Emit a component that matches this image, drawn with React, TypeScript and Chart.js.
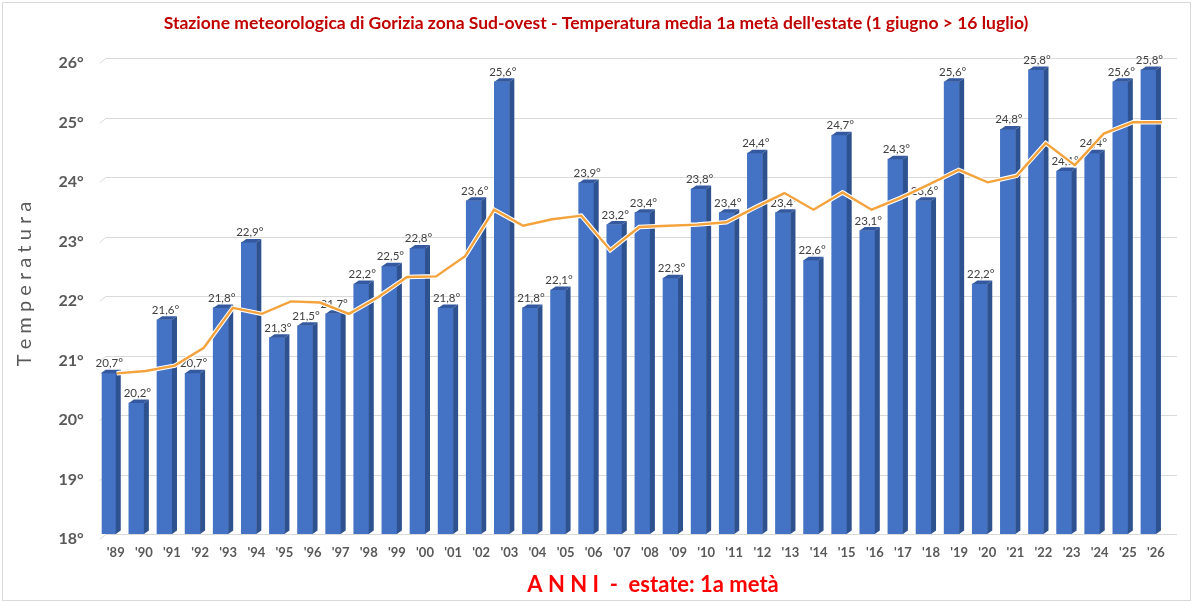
import React, { useEffect, useRef } from 'react';
import { Chart, registerables } from 'chart.js';

Chart.register(...registerables);

const titleText =
  "Stazione meteorologica di Gorizia zona Sud-ovest - Temperatura media 1a metà dell'estate (1 giugno > 16 luglio)";
const yTitle = 'T e m p e r a t u r a';
const xTitle = 'A N N I  -  estate: 1a metà';

const years = [
  "'89", "'90", "'91", "'92", "'93", "'94", "'95", "'96", "'97", "'98", "'99",
  "'00", "'01", "'02", "'03", "'04", "'05", "'06", "'07", "'08", "'09", "'10",
  "'11", "'12", "'13", "'14", "'15", "'16", "'17", "'18", "'19", "'20", "'21",
  "'22", "'23", "'24", "'25", "'26",
];

const temps = [
  20.7, 20.2, 21.6, 20.7, 21.8, 22.9, 21.3, 21.5, 21.7, 22.2, 22.5,
  22.8, 21.8, 23.6, 25.6, 21.8, 22.1, 23.9, 23.2, 23.4, 22.3, 23.8,
  23.4, 24.4, 23.4, 22.6, 24.7, 23.1, 24.3, 23.6, 25.6, 22.2, 24.8,
  25.8, 24.1, 24.4, 25.6, 25.8,
];

// orange trend line (37 points spread across the plot)
const trend = [
  20.70, 20.74, 20.83, 21.13, 21.80, 21.70, 21.91, 21.89, 21.70, 21.98,
  22.32, 22.33, 22.67, 23.45, 23.18, 23.29, 23.35, 22.77, 23.16, 23.18,
  23.20, 23.24, 23.49, 23.73, 23.45, 23.74, 23.45, 23.65, 23.88, 24.12,
  23.91, 24.02, 24.57, 24.20, 24.73, 24.92, 24.92,
];

const yMin = 18;
const yMax = 26;

const fmt = (v: number) => v.toFixed(1).replace('.', ',') + '°';

const DX = 5;
const DY = 3.5;

const chrome = {
  id: 'chrome',
  beforeDatasetsDraw(chart: any) {
    const { ctx, chartArea } = chart;
    const ys = chart.scales.y;
    ctx.save();
    ctx.strokeStyle = '#D9D9D9';
    ctx.lineWidth = 1;
    ys.ticks.forEach((t: any) => {
      const y = Math.round(ys.getPixelForValue(t.value)) + 0.5;
      ctx.beginPath();
      ctx.moveTo(chartArea.left - 2, y + 5);
      ctx.lineTo(chartArea.left + 4, y);
      ctx.lineTo(chartArea.right + 7, y);
      ctx.stroke();
    });
    ctx.restore();
  },
  afterDatasetDraw(chart: any, args: any) {
    if (args.index !== 0) return;
    const { ctx } = chart;
    const meta = chart.getDatasetMeta(0);
    ctx.save();
    meta.data.forEach((el: any) => {
      const p = el.getProps(['x', 'y', 'width', 'base'], true);
      const l = p.x - p.width / 2;
      const r = p.x + p.width / 2;
      // side face
      ctx.fillStyle = '#2E528F';
      ctx.beginPath();
      ctx.moveTo(r, p.y);
      ctx.lineTo(r + DX, p.y - DY);
      ctx.lineTo(r + DX, p.base - DY);
      ctx.lineTo(r, p.base);
      ctx.closePath();
      ctx.fill();
      // top face
      ctx.fillStyle = '#34599E';
      ctx.beginPath();
      ctx.moveTo(l, p.y);
      ctx.lineTo(l + DX, p.y - DY);
      ctx.lineTo(r + DX, p.y - DY);
      ctx.lineTo(r, p.y);
      ctx.closePath();
      ctx.fill();
    });
    // value labels
    ctx.font = '11.5px Lato';
    ctx.fillStyle = '#404040';
    ctx.textAlign = 'center';
    ctx.textBaseline = 'alphabetic';
    meta.data.forEach((el: any, i: number) => {
      const p = el.getProps(['x', 'y'], true);
      ctx.fillText(fmt(temps[i]), p.x + 1, p.y - 6);
    });
    ctx.restore();
  },
  afterDraw(chart: any) {
    const { ctx } = chart;
    ctx.save();
    // frame
    ctx.strokeStyle = '#D9D9D9';
    ctx.lineWidth = 1;
    ctx.strokeRect(2.5, 2.5, 1188, 598);
    // title
    ctx.font = 'bold 17.5px Lato';
    ctx.fillStyle = '#C00000';
    ctx.textAlign = 'center';
    ctx.textBaseline = 'middle';
    ctx.fillText(titleText, 596, 23);
    // y title
    ctx.save();
    ctx.translate(25, 284);
    ctx.rotate(-Math.PI / 2);
    ctx.font = '20px Lato';
    ctx.fillStyle = '#595959';
    ctx.fillText(yTitle, 0, 0);
    ctx.restore();
    // x title
    ctx.font = 'bold 22px Lato';
    ctx.fillStyle = '#FF0000';
    ctx.fillText(xTitle, 653, 585);
    ctx.restore();
  },
};

export default function App() {
  const ref = useRef<HTMLCanvasElement | null>(null);

  useEffect(() => {
    document.body.style.margin = '0';
    const canvas = ref.current;
    if (!canvas) return;
    const trendPts = trend.map((v, k) => ({ x: k, y: v }));
    const chart = new Chart(canvas, {
      data: {
        labels: years,
        datasets: [
          {
            type: 'bar',
            data: temps,
            base: yMin,
            backgroundColor: '#4472C4',
            borderWidth: 0,
            barThickness: 15,
            order: 3,
            xAxisID: 'x',
            yAxisID: 'y',
          } as any,
          {
            type: 'line',
            data: trendPts,
            borderColor: '#FFFFFF',
            borderWidth: 4.5,
            pointRadius: 0,
            tension: 0,
            order: 2,
            xAxisID: 'x2',
            yAxisID: 'y',
          } as any,
          {
            type: 'line',
            data: trendPts,
            borderColor: '#F4A23C',
            borderWidth: 2.4,
            pointRadius: 0,
            tension: 0,
            order: 1,
            xAxisID: 'x2',
            yAxisID: 'y',
          } as any,
        ],
      },
      options: {
        animation: false,
        responsive: false,
        devicePixelRatio: 1,
        layout: { padding: { top: 58, right: 22, bottom: 0, left: 0 } },
        plugins: {
          legend: { display: false },
          title: { display: false },
          tooltip: { enabled: false },
        },
        scales: {
          x: {
            type: 'category',
            offset: true,
            grid: { display: false, drawTicks: false },
            border: { display: false },
            ticks: {
              color: '#595959',
              font: { family: 'Lato', size: 13, weight: 'bold' },
              padding: 11,
              maxRotation: 0,
              autoSkip: false,
            },
            afterFit: (s: any) => {
              s.height = 68;
            },
          },
          x2: {
            type: 'linear',
            display: false,
            min: -0.517,
            max: 36.28,
          },
          y: {
            min: yMin,
            max: yMax,
            grid: { display: false, drawTicks: false },
            border: { display: false },
            ticks: {
              stepSize: 1,
              color: '#595959',
              font: { family: 'Lato', size: 16, weight: 'bold' },
              padding: 18,
              labelOffset: 5,
              callback: (v: any) => v + '°',
            },
            afterFit: (s: any) => {
              s.width = 101.7;
            },
          },
        },
      } as any,
      plugins: [chrome],
    });
    return () => chart.destroy();
  }, []);

  return (
    <div style={{ position: 'fixed', left: 0, top: 0, width: 1192, height: 602, background: '#fff' }}>
      <canvas ref={ref} width={1192} height={602} style={{ display: 'block' }} />
    </div>
  );
}
